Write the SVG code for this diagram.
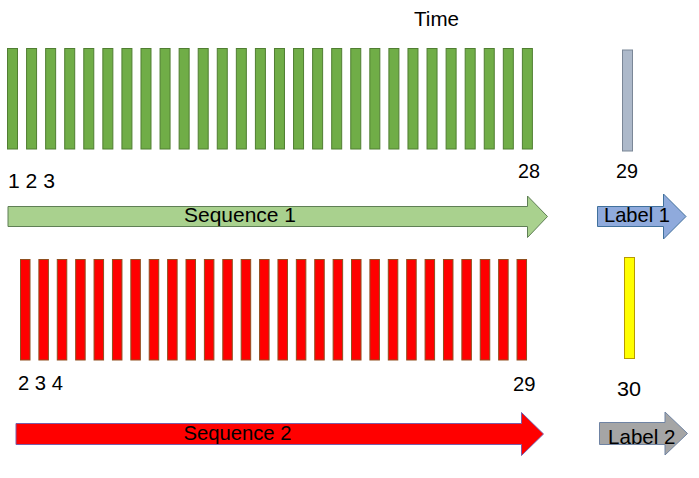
<svg xmlns="http://www.w3.org/2000/svg" width="699" height="478" viewBox="0 0 699 478">
<style>
text{font-family:"Liberation Sans",Arial,sans-serif;font-size:21px;fill:#000}
.g{fill:#70ad47;stroke:#507e32;stroke-width:1}
.r{fill:#ff0000;stroke:#8f4f1f;stroke-width:1}
</style>
<rect width="699" height="478" fill="#fff"/>
<text x="414" y="26" textLength="45" lengthAdjust="spacingAndGlyphs">Time</text>
<g id="seq1-bars">
<rect class="g" x="7.5" y="48.5" width="10" height="100.5"/>
<rect class="g" x="26.57" y="48.5" width="10" height="100.5"/>
<rect class="g" x="45.64" y="48.5" width="10" height="100.5"/>
<rect class="g" x="64.71" y="48.5" width="10" height="100.5"/>
<rect class="g" x="83.78" y="48.5" width="10" height="100.5"/>
<rect class="g" x="102.85" y="48.5" width="10" height="100.5"/>
<rect class="g" x="121.92" y="48.5" width="10" height="100.5"/>
<rect class="g" x="140.99" y="48.5" width="10" height="100.5"/>
<rect class="g" x="160.06" y="48.5" width="10" height="100.5"/>
<rect class="g" x="179.13" y="48.5" width="10" height="100.5"/>
<rect class="g" x="198.2" y="48.5" width="10" height="100.5"/>
<rect class="g" x="217.27" y="48.5" width="10" height="100.5"/>
<rect class="g" x="236.34" y="48.5" width="10" height="100.5"/>
<rect class="g" x="255.41" y="48.5" width="10" height="100.5"/>
<rect class="g" x="274.48" y="48.5" width="10" height="100.5"/>
<rect class="g" x="293.55" y="48.5" width="10" height="100.5"/>
<rect class="g" x="312.62" y="48.5" width="10" height="100.5"/>
<rect class="g" x="331.69" y="48.5" width="10" height="100.5"/>
<rect class="g" x="350.76" y="48.5" width="10" height="100.5"/>
<rect class="g" x="369.83" y="48.5" width="10" height="100.5"/>
<rect class="g" x="388.9" y="48.5" width="10" height="100.5"/>
<rect class="g" x="407.97" y="48.5" width="10" height="100.5"/>
<rect class="g" x="427.04" y="48.5" width="10" height="100.5"/>
<rect class="g" x="446.11" y="48.5" width="10" height="100.5"/>
<rect class="g" x="465.18" y="48.5" width="10" height="100.5"/>
<rect class="g" x="484.25" y="48.5" width="10" height="100.5"/>
<rect class="g" x="503.32" y="48.5" width="10" height="100.5"/>
<rect class="g" x="522.39" y="48.5" width="10" height="100.5"/>
<text x="8" y="188" textLength="47" lengthAdjust="spacingAndGlyphs">1 2 3</text>
<text x="518" y="178" textLength="22" lengthAdjust="spacingAndGlyphs">28</text>
</g>
<g id="label1-bar">
<rect x="622.5" y="50" width="10" height="101" fill="#adb9ca" stroke="#7b8797"/>
<text x="616" y="178" textLength="22" lengthAdjust="spacingAndGlyphs">29</text>
</g>
<g id="seq1-arrow">
<polygon points="8,206.5 527.5,206.5 527.5,196 547.5,216.5 527.5,237.5 527.5,226.5 8,226.5" fill="#a9d18e" stroke="#5f7f55"/>
<text x="184" y="222" textLength="112" lengthAdjust="spacingAndGlyphs">Sequence 1</text>
</g>
<g id="label1-arrow">
<polygon points="597.5,206.5 663.5,206.5 663.5,194 686,216.5 663.5,239 663.5,226.5 597.5,226.5" fill="#8faadc" stroke="#41719c"/>
<text x="604" y="222" textLength="66" lengthAdjust="spacingAndGlyphs">Label 1</text>
</g>
<g id="seq2-bars">
<rect class="r" x="20.5" y="259.5" width="9.5" height="100.5"/>
<rect class="r" x="38.89" y="259.5" width="9.5" height="100.5"/>
<rect class="r" x="57.28" y="259.5" width="9.5" height="100.5"/>
<rect class="r" x="75.67" y="259.5" width="9.5" height="100.5"/>
<rect class="r" x="94.06" y="259.5" width="9.5" height="100.5"/>
<rect class="r" x="112.45" y="259.5" width="9.5" height="100.5"/>
<rect class="r" x="130.84" y="259.5" width="9.5" height="100.5"/>
<rect class="r" x="149.23" y="259.5" width="9.5" height="100.5"/>
<rect class="r" x="167.62" y="259.5" width="9.5" height="100.5"/>
<rect class="r" x="186.01" y="259.5" width="9.5" height="100.5"/>
<rect class="r" x="204.4" y="259.5" width="9.5" height="100.5"/>
<rect class="r" x="222.79" y="259.5" width="9.5" height="100.5"/>
<rect class="r" x="241.18" y="259.5" width="9.5" height="100.5"/>
<rect class="r" x="259.57" y="259.5" width="9.5" height="100.5"/>
<rect class="r" x="277.96" y="259.5" width="9.5" height="100.5"/>
<rect class="r" x="296.35" y="259.5" width="9.5" height="100.5"/>
<rect class="r" x="314.74" y="259.5" width="9.5" height="100.5"/>
<rect class="r" x="333.13" y="259.5" width="9.5" height="100.5"/>
<rect class="r" x="351.52" y="259.5" width="9.5" height="100.5"/>
<rect class="r" x="369.91" y="259.5" width="9.5" height="100.5"/>
<rect class="r" x="388.3" y="259.5" width="9.5" height="100.5"/>
<rect class="r" x="406.69" y="259.5" width="9.5" height="100.5"/>
<rect class="r" x="425.08" y="259.5" width="9.5" height="100.5"/>
<rect class="r" x="443.47" y="259.5" width="9.5" height="100.5"/>
<rect class="r" x="461.86" y="259.5" width="9.5" height="100.5"/>
<rect class="r" x="480.25" y="259.5" width="9.5" height="100.5"/>
<rect class="r" x="498.64" y="259.5" width="9.5" height="100.5"/>
<rect class="r" x="517.03" y="259.5" width="9.5" height="100.5"/>
<text x="18" y="389.5" textLength="45" lengthAdjust="spacingAndGlyphs">2 3 4</text>
<text x="513" y="391" textLength="22.5" lengthAdjust="spacingAndGlyphs">29</text>
</g>
<g id="label2-bar">
<rect x="624.5" y="257.5" width="10" height="101" fill="#ffff00" stroke="#b89a00"/>
<text x="617" y="396" textLength="24" lengthAdjust="spacingAndGlyphs">30</text>
</g>
<g id="seq2-arrow">
<polygon points="16,423.5 521.5,423.5 521.5,412.5 543.5,434 521.5,455.5 521.5,444.5 16,444.5" fill="#ff0000" stroke="#7a5ea8"/>
<text x="183.5" y="439.5" textLength="108" lengthAdjust="spacingAndGlyphs">Sequence 2</text>
</g>
<g id="label2-arrow">
<polygon points="599.5,422.5 665,422.5 665,412 687.5,433.5 665,455 665,444.5 599.5,444.5" fill="#a5a5a5" stroke="#6f83a3"/>
<text x="608" y="443.5" textLength="67.5" lengthAdjust="spacingAndGlyphs">Label 2</text>
</g>
</svg>
